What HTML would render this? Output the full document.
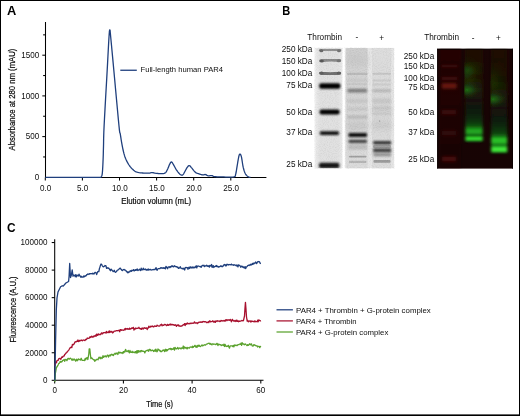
<!DOCTYPE html>
<html><head><meta charset="utf-8"><title>Figure</title>
<style>html,body{margin:0;padding:0;background:#fff;width:520px;height:416px;overflow:hidden;font-family:"Liberation Sans",sans-serif}</style></head>
<body>
<svg width="520" height="416" viewBox="0 0 520 416" style="display:block;position:absolute;left:0;top:0">
<defs>
<filter id="b1" x="-20%" y="-50%" width="140%" height="200%"><feGaussianBlur stdDeviation="0.7"/></filter>
<filter id="b2" x="-20%" y="-80%" width="140%" height="260%"><feGaussianBlur stdDeviation="1.2"/></filter>
<filter id="b3" x="-30%" y="-80%" width="160%" height="260%"><feGaussianBlur stdDeviation="2.5"/></filter>
<filter id="b5" x="-30%" y="-30%" width="160%" height="160%"><feGaussianBlur stdDeviation="4"/></filter>
</defs>
<rect x="0" y="0" width="520" height="416" fill="#fff"/>
<g stroke="#000" stroke-width="1.05" fill="none">
<path d="M45.5 22 V177.4 H266.4"/>
<path d="M43.10 156.95 H45.3"/>
<path d="M42.30 136.60 H45.3"/>
<path d="M43.10 116.25 H45.3"/>
<path d="M42.30 95.90 H45.3"/>
<path d="M43.10 75.55 H45.3"/>
<path d="M42.30 55.20 H45.3"/>
<path d="M43.10 34.85 H45.3"/>
<path d="M45.30 177.4 V180.6"/>
<path d="M82.40 177.4 V180.6"/>
<path d="M119.50 177.4 V180.6"/>
<path d="M156.60 177.4 V180.6"/>
<path d="M193.70 177.4 V180.6"/>
<path d="M230.80 177.4 V180.6"/>
</g>
<path d="M45.30 177.30 L100.60 177.30 L100.59 177.31 L100.56 177.34 L100.54 177.37 L100.53 177.38 L100.54 177.36 L100.60 177.30 L100.71 177.21 L100.87 177.11 L101.05 176.99 L101.24 176.81 L101.43 176.55 L101.60 176.20 L101.75 175.83 L101.89 175.47 L102.02 175.03 L102.15 174.43 L102.27 173.59 L102.40 172.40 L102.53 170.79 L102.65 168.82 L102.78 166.60 L102.89 164.24 L103.00 161.87 L103.10 159.60 L103.18 157.48 L103.25 155.43 L103.31 153.36 L103.36 151.19 L103.43 148.83 L103.50 146.20 L103.56 143.64 L103.59 141.30 L103.63 138.76 L103.71 135.64 L103.85 131.52 L104.10 126.00 L104.49 118.47 L105.00 109.13 L105.57 98.80 L106.17 88.29 L106.73 78.42 L107.20 70.00 L107.59 62.87 L107.93 56.34 L108.24 50.44 L108.52 45.23 L108.77 40.73 L109.00 37.00 L109.20 34.15 L109.35 32.19 L109.48 30.94 L109.60 30.26 L109.72 29.96 L109.85 29.90 L109.97 29.96 L110.05 30.26 L110.13 30.94 L110.25 32.19 L110.43 34.15 L110.70 37.00 L111.06 40.73 L111.49 45.23 L111.98 50.44 L112.53 56.34 L113.14 62.87 L113.80 70.00 L114.59 78.56 L115.52 88.74 L116.51 99.56 L117.48 110.03 L118.33 119.17 L119.00 126.00 L119.43 130.08 L119.70 132.10 L119.85 132.79 L119.96 132.88 L120.09 133.07 L120.30 134.10 L120.58 135.90 L120.89 137.89 L121.21 139.98 L121.56 142.11 L121.92 144.21 L122.30 146.20 L122.69 148.11 L123.10 150.00 L123.52 151.86 L123.98 153.66 L124.47 155.38 L125.00 157.00 L125.59 158.53 L126.23 160.00 L126.91 161.38 L127.61 162.68 L128.31 163.89 L129.00 165.00 L129.68 166.00 L130.36 166.89 L131.05 167.69 L131.74 168.42 L132.42 169.08 L133.10 169.70 L133.74 170.26 L134.34 170.76 L134.94 171.19 L135.57 171.57 L136.28 171.90 L137.10 172.20 L138.08 172.45 L139.18 172.65 L140.36 172.81 L141.56 172.93 L142.73 173.02 L143.80 173.10 L144.81 173.16 L145.80 173.19 L146.75 173.19 L147.65 173.17 L148.47 173.14 L149.20 173.10 L149.79 173.03 L150.25 172.93 L150.63 172.81 L151.00 172.70 L151.40 172.62 L151.90 172.60 L152.50 172.65 L153.17 172.76 L153.87 172.90 L154.59 173.05 L155.31 173.19 L156.00 173.30 L156.66 173.38 L157.31 173.46 L157.96 173.52 L158.61 173.57 L159.29 173.60 L160.00 173.60 L160.78 173.61 L161.63 173.63 L162.49 173.63 L163.34 173.58 L164.12 173.45 L164.80 173.20 L165.35 172.83 L165.81 172.36 L166.21 171.80 L166.57 171.18 L166.93 170.51 L167.30 169.80 L167.69 169.01 L168.07 168.10 L168.45 167.15 L168.81 166.21 L169.17 165.34 L169.50 164.60 L169.81 163.97 L170.11 163.39 L170.39 162.88 L170.66 162.47 L170.93 162.17 L171.20 162.00 L171.45 161.96 L171.67 162.02 L171.88 162.19 L172.12 162.49 L172.42 162.92 L172.80 163.50 L173.29 164.30 L173.87 165.33 L174.51 166.49 L175.16 167.69 L175.81 168.83 L176.40 169.80 L176.96 170.63 L177.50 171.40 L178.04 172.11 L178.55 172.75 L179.04 173.32 L179.50 173.80 L179.92 174.20 L180.32 174.52 L180.69 174.76 L181.04 174.94 L181.37 175.05 L181.70 175.10 L181.99 175.13 L182.23 175.14 L182.46 175.08 L182.71 174.92 L183.01 174.61 L183.40 174.10 L183.91 173.30 L184.51 172.21 L185.16 170.97 L185.83 169.71 L186.45 168.58 L187.00 167.70 L187.46 167.05 L187.85 166.51 L188.21 166.09 L188.56 165.79 L188.91 165.63 L189.30 165.60 L189.70 165.74 L190.11 166.06 L190.52 166.51 L190.95 167.04 L191.41 167.62 L191.90 168.20 L192.44 168.84 L193.00 169.57 L193.60 170.36 L194.22 171.13 L194.85 171.83 L195.50 172.40 L196.18 172.84 L196.89 173.19 L197.62 173.46 L198.35 173.69 L199.05 173.90 L199.70 174.10 L200.30 174.30 L200.87 174.48 L201.41 174.63 L201.92 174.76 L202.42 174.85 L202.90 174.90 L203.35 174.88 L203.77 174.79 L204.18 174.67 L204.57 174.55 L204.97 174.48 L205.40 174.50 L205.84 174.64 L206.28 174.86 L206.73 175.14 L207.20 175.41 L207.68 175.65 L208.20 175.80 L208.76 175.84 L209.37 175.80 L210.01 175.72 L210.64 175.63 L211.24 175.58 L211.80 175.60 L212.25 175.71 L212.59 175.87 L212.91 176.07 L213.29 176.27 L213.79 176.46 L214.50 176.60 L215.41 176.69 L216.46 176.76 L217.64 176.81 L218.94 176.85 L220.36 176.88 L221.90 176.90 L223.71 176.95 L225.84 177.03 L228.08 177.09 L230.25 177.12 L232.16 177.07 L233.60 176.90 L234.51 176.66 L235.03 176.39 L235.29 176.03 L235.40 175.56 L235.50 174.93 L235.70 174.10 L235.98 173.02 L236.24 171.73 L236.47 170.27 L236.71 168.72 L236.95 167.14 L237.20 165.60 L237.48 163.99 L237.77 162.23 L238.07 160.44 L238.36 158.75 L238.64 157.26 L238.90 156.10 L239.13 155.27 L239.33 154.69 L239.52 154.31 L239.70 154.11 L239.89 154.05 L240.10 154.10 L240.32 154.24 L240.54 154.48 L240.76 154.87 L241.00 155.43 L241.24 156.20 L241.50 157.20 L241.77 158.57 L242.05 160.30 L242.34 162.24 L242.65 164.23 L242.97 166.10 L243.30 167.70 L243.65 169.05 L244.01 170.27 L244.39 171.39 L244.78 172.39 L245.18 173.29 L245.60 174.10 L246.05 174.79 L246.52 175.35 L247.01 175.81 L247.50 176.19 L247.97 176.51 L248.40 176.80 L248.81 177.03 L249.23 177.18 L249.62 177.27 L249.98 177.32 L250.28 177.36 L250.50 177.40" fill="none" stroke="#1f3f7d" stroke-width="1.3" stroke-linejoin="round"/>
<path d="M120.3 70.25 H136.8" stroke="#1f3f7d" stroke-width="1.3"/>
<g font-family="'Liberation Sans', sans-serif" fill="#0d0d0d" opacity="0.995">
<g font-size="8.6" text-anchor="end">
<text x="39.3" y="180.05" textLength="4.49" lengthAdjust="spacingAndGlyphs">0</text>
<text x="39.3" y="139.35" textLength="13.48" lengthAdjust="spacingAndGlyphs">500</text>
<text x="39.3" y="98.65" textLength="17.98" lengthAdjust="spacingAndGlyphs">1000</text>
<text x="39.3" y="57.95" textLength="17.98" lengthAdjust="spacingAndGlyphs">1500</text>
</g>
<g font-size="8.6" text-anchor="middle">
<text x="45.60" y="190.6" textLength="11.24" lengthAdjust="spacingAndGlyphs">0.0</text>
<text x="82.70" y="190.6" textLength="11.24" lengthAdjust="spacingAndGlyphs">5.0</text>
<text x="119.80" y="190.6" textLength="15.73" lengthAdjust="spacingAndGlyphs">10.0</text>
<text x="156.90" y="190.6" textLength="15.73" lengthAdjust="spacingAndGlyphs">15.0</text>
<text x="194.00" y="190.6" textLength="15.73" lengthAdjust="spacingAndGlyphs">20.0</text>
<text x="231.10" y="190.6" textLength="15.73" lengthAdjust="spacingAndGlyphs">25.0</text>
</g>
<text font-size="8.8" stroke="#0d0d0d" stroke-width="0.22" text-anchor="middle" textLength="101.8" lengthAdjust="spacingAndGlyphs" transform="translate(15.3,99.6) rotate(-90)">Absorbance at 280 nm (mAU)</text>
<text font-size="8.8" stroke="#0d0d0d" stroke-width="0.22" text-anchor="middle" textLength="70" lengthAdjust="spacingAndGlyphs" x="156.2" y="204.3">Elution volumn (mL)</text>
<text font-size="7.7" x="140.5" y="72.4" textLength="82.5" lengthAdjust="spacingAndGlyphs">Full-length human PAR4</text>
<g font-size="12.25" font-weight="bold" fill="#000">
<text x="7.0" y="15.35" textLength="9.3" lengthAdjust="spacingAndGlyphs">A</text><text x="282.2" y="15.3" textLength="8.0" lengthAdjust="spacingAndGlyphs">B</text><text x="7.0" y="232.2" textLength="8.6" lengthAdjust="spacingAndGlyphs">C</text>
</g>
<g font-size="8.2">
<text x="307.3" y="39.8" textLength="34.7" lengthAdjust="spacingAndGlyphs">Thrombin</text><text x="355.6" y="40.3">-</text><text x="379.2" y="40.9">+</text>
<text x="424.2" y="40.4" textLength="34.8" lengthAdjust="spacingAndGlyphs">Thrombin</text><text x="471.7" y="40.6">-</text><text x="496.1" y="41.1">+</text>
</g>
<g font-size="8.2" text-anchor="end">
<text x="312.3" y="51.90">250 kDa</text>
<text x="312.3" y="63.90">150 kDa</text>
<text x="312.3" y="76.40">100 kDa</text>
<text x="312.3" y="88.40">75 kDa</text>
<text x="312.3" y="114.90">50 kDa</text>
<text x="312.3" y="135.40">37 kDa</text>
<text x="312.3" y="166.70">25 kDa</text>
<text x="434.3" y="58.50">250 kDa</text>
<text x="434.3" y="69.00">150 kDa</text>
<text x="434.3" y="80.80">100 kDa</text>
<text x="434.3" y="90.30">75 kDa</text>
<text x="434.3" y="115.00">50 kDa</text>
<text x="434.3" y="135.40">37 kDa</text>
<text x="434.3" y="161.80">25 kDa</text>
</g>
<g font-size="8.6" text-anchor="end">
<text x="47.4" y="383.05" textLength="4.49" lengthAdjust="spacingAndGlyphs">0</text>
<text x="47.4" y="355.50" textLength="22.47" lengthAdjust="spacingAndGlyphs">20000</text>
<text x="47.4" y="327.95" textLength="22.47" lengthAdjust="spacingAndGlyphs">40000</text>
<text x="47.4" y="300.40" textLength="22.47" lengthAdjust="spacingAndGlyphs">60000</text>
<text x="47.4" y="272.85" textLength="22.47" lengthAdjust="spacingAndGlyphs">80000</text>
<text x="47.4" y="245.30" textLength="26.97" lengthAdjust="spacingAndGlyphs">100000</text>
</g>
<g font-size="8.6" text-anchor="middle">
<text x="54.70" y="393.4" textLength="4.49" lengthAdjust="spacingAndGlyphs">0</text>
<text x="123.40" y="393.4" textLength="8.99" lengthAdjust="spacingAndGlyphs">20</text>
<text x="192.10" y="393.4" textLength="8.99" lengthAdjust="spacingAndGlyphs">40</text>
<text x="260.80" y="393.4" textLength="8.99" lengthAdjust="spacingAndGlyphs">60</text>
</g>
<text font-size="8.8" stroke="#0d0d0d" stroke-width="0.22" text-anchor="middle" textLength="66.1" lengthAdjust="spacingAndGlyphs" transform="translate(15.6,309.5) rotate(-90)">Fluorescence (A.U.)</text>
<text font-size="8.8" stroke="#0d0d0d" stroke-width="0.22" text-anchor="middle" textLength="26.9" lengthAdjust="spacingAndGlyphs" x="159.6" y="406.5">Time (s)</text>
<g font-size="7.8" lengthAdjust="spacingAndGlyphs">
<text x="296" y="312.5" textLength="134.8" lengthAdjust="spacingAndGlyphs">PAR4 + Thrombin + G-protein complex</text>
<text x="296" y="323.6" textLength="60.6" lengthAdjust="spacingAndGlyphs">PAR4 + Thrombin</text>
<text x="296" y="334.7" textLength="92.3" lengthAdjust="spacingAndGlyphs">PAR4 + G-protein complex</text>
</g>
</g>
<g stroke="#000" stroke-width="1.05" fill="none">
<path d="M54.7 239.2 V380.3 H263.5"/>
<path d="M51.7 380.30 H54.7"/>
<path d="M51.7 352.75 H54.7"/>
<path d="M51.7 325.20 H54.7"/>
<path d="M51.7 297.65 H54.7"/>
<path d="M51.7 270.10 H54.7"/>
<path d="M51.7 242.55 H54.7"/>
<path d="M54.70 380.3 V383.5"/>
<path d="M123.40 380.3 V383.5"/>
<path d="M192.10 380.3 V383.5"/>
<path d="M260.80 380.3 V383.5"/>
</g>
<path d="M54.80 381.85 L55.35 373.48 L55.90 370.61 L56.45 367.09 L57.00 367.03 L57.55 365.90 L58.10 365.01 L58.65 363.56 L59.20 363.35 L59.75 362.48 L60.30 361.33 L60.85 362.30 L61.40 361.73 L61.95 361.80 L62.50 360.64 L63.05 360.32 L63.60 360.22 L64.15 359.52 L64.70 361.29 L65.25 359.70 L65.80 359.37 L66.35 359.78 L66.90 360.69 L67.45 359.54 L68.00 358.38 L68.55 358.38 L69.10 359.25 L69.65 358.64 L70.20 358.14 L70.75 358.45 L71.30 359.07 L71.85 360.17 L72.40 358.97 L72.95 360.15 L73.50 359.98 L74.05 358.81 L74.60 359.82 L75.15 359.71 L75.70 361.17 L76.25 360.25 L76.80 359.16 L77.35 360.71 L77.90 359.97 L78.45 358.94 L79.00 359.69 L79.55 359.63 L80.10 359.37 L80.65 359.95 L81.20 358.29 L81.75 359.62 L82.30 360.46 L82.85 360.29 L83.40 360.40 L83.95 360.35 L84.50 360.55 L85.05 358.63 L85.60 359.90 L86.15 357.90 L86.70 358.68 L87.25 357.66 L87.80 359.63 L88.80 354.00 L89.20 348.80 L89.80 348.80 L90.30 354.00 L90.90 358.58 L91.45 357.85 L92.00 358.06 L92.55 358.90 L93.10 359.32 L93.65 359.82 L94.20 359.70 L94.75 361.38 L95.30 360.07 L95.85 360.34 L96.40 359.65 L96.95 359.13 L97.50 359.33 L98.05 359.83 L98.60 358.11 L99.15 357.08 L99.70 357.72 L100.25 358.74 L100.80 357.22 L101.35 357.92 L101.90 358.53 L102.45 357.78 L103.00 355.74 L103.55 357.28 L104.10 356.47 L104.65 356.63 L105.20 355.80 L105.75 356.68 L106.30 356.98 L106.85 355.94 L107.40 355.17 L107.95 355.18 L108.50 357.11 L109.05 355.60 L109.60 355.08 L110.15 355.98 L110.70 354.75 L111.25 354.85 L111.80 354.18 L112.35 355.06 L112.90 354.68 L113.45 355.52 L114.00 354.27 L114.55 353.80 L115.10 353.25 L115.65 354.27 L116.20 353.24 L116.75 353.59 L117.30 353.09 L117.85 354.48 L118.40 352.55 L118.95 352.03 L119.50 353.04 L120.05 352.68 L120.60 352.47 L121.15 353.20 L121.70 352.96 L122.25 352.71 L122.80 353.45 L123.35 351.54 L123.90 352.58 L124.45 351.24 L125.00 351.80 L125.55 349.36 L126.10 350.69 L126.65 351.35 L127.20 351.64 L127.75 351.06 L128.30 350.50 L128.85 352.14 L129.40 352.74 L129.95 350.42 L130.50 351.94 L131.05 352.39 L131.60 352.47 L132.15 351.30 L132.70 352.53 L133.25 352.31 L133.80 351.94 L134.35 352.65 L134.90 352.61 L135.45 351.57 L136.00 352.89 L136.55 350.94 L137.10 353.06 L137.65 350.73 L138.20 352.44 L138.75 350.55 L139.30 351.69 L139.85 351.89 L140.40 350.77 L140.95 351.74 L141.50 350.50 L142.05 350.76 L142.60 351.23 L143.15 351.17 L143.70 351.37 L144.25 351.44 L144.80 352.91 L145.35 351.53 L145.90 350.85 L146.45 350.62 L147.00 350.47 L147.55 350.55 L148.10 349.77 L148.65 351.27 L149.20 350.12 L149.75 349.23 L150.30 349.51 L150.85 350.84 L151.40 350.69 L151.95 350.18 L152.50 350.17 L153.05 350.37 L153.60 351.48 L154.15 351.02 L154.70 350.00 L155.25 351.37 L155.80 349.14 L156.35 350.34 L156.90 351.82 L157.45 351.18 L158.00 348.97 L158.55 349.93 L159.10 349.69 L159.65 350.91 L160.20 350.55 L160.75 351.64 L161.30 351.54 L161.85 351.56 L162.40 350.26 L162.95 350.57 L163.50 350.48 L164.05 349.73 L164.60 351.59 L165.15 350.81 L165.70 349.12 L166.25 351.02 L166.80 349.63 L167.35 350.69 L167.90 349.63 L168.45 349.18 L169.00 349.04 L169.55 348.63 L170.10 349.15 L170.65 348.33 L171.20 349.81 L171.75 348.77 L172.30 349.09 L172.85 349.44 L173.40 348.18 L173.95 347.81 L174.50 350.14 L175.05 347.51 L175.60 348.08 L176.15 348.94 L176.70 348.82 L177.25 348.16 L177.80 347.43 L178.35 349.12 L178.90 348.60 L179.45 348.02 L180.00 347.89 L180.55 348.58 L181.10 348.82 L181.65 347.95 L182.20 347.87 L182.75 348.29 L183.30 346.02 L183.85 348.89 L184.40 346.79 L184.95 347.49 L185.50 348.00 L186.05 347.42 L186.60 348.39 L187.15 348.91 L187.70 347.45 L188.25 347.89 L188.80 347.76 L189.35 348.14 L189.90 347.22 L190.45 347.05 L191.00 346.90 L191.55 347.10 L192.10 347.67 L192.65 346.09 L193.20 347.37 L193.75 346.64 L194.30 346.46 L194.85 345.32 L195.40 345.87 L195.95 347.22 L196.50 345.99 L197.05 347.43 L197.60 345.59 L198.15 345.23 L198.70 346.32 L199.25 345.28 L199.80 346.28 L200.35 346.58 L200.90 346.09 L201.45 345.67 L202.00 344.87 L202.55 345.84 L203.10 345.73 L203.65 345.09 L204.20 345.08 L204.75 344.67 L205.30 345.16 L205.85 344.68 L206.40 344.06 L206.95 344.09 L207.50 343.78 L208.05 343.49 L208.60 343.35 L209.15 343.21 L209.70 344.05 L210.25 343.54 L210.80 344.36 L211.35 344.05 L211.90 344.93 L212.45 343.78 L213.00 343.81 L213.55 344.25 L214.10 344.26 L214.65 344.06 L215.20 344.21 L215.75 344.68 L216.30 344.30 L216.85 343.38 L217.40 343.79 L217.95 345.56 L218.50 344.08 L219.05 344.51 L219.60 344.47 L220.15 344.53 L220.70 344.81 L221.25 345.64 L221.80 344.99 L222.35 344.73 L222.90 345.16 L223.45 345.57 L224.00 344.10 L224.55 346.47 L225.10 344.49 L225.65 345.65 L226.20 346.53 L226.75 346.18 L227.30 346.39 L227.85 346.04 L228.40 345.35 L228.95 347.11 L229.50 348.19 L230.05 346.18 L230.60 345.94 L231.15 345.87 L231.70 345.87 L232.25 345.78 L232.80 346.57 L233.35 345.39 L233.90 346.91 L234.45 345.24 L235.00 344.84 L235.55 345.46 L236.10 345.71 L236.65 345.25 L237.20 345.51 L237.75 344.92 L238.30 344.64 L238.85 344.71 L239.40 344.05 L239.95 344.17 L240.50 344.25 L241.05 343.08 L241.60 345.40 L242.15 342.69 L242.70 343.81 L243.25 344.17 L243.80 343.93 L244.35 344.78 L244.90 344.32 L245.45 343.90 L246.00 344.59 L246.55 345.13 L247.10 345.66 L247.65 344.63 L248.20 345.43 L248.75 345.04 L249.30 344.22 L249.85 343.72 L250.40 344.75 L250.95 344.62 L251.50 343.83 L252.05 345.65 L252.60 346.13 L253.15 346.02 L253.70 344.76 L254.25 345.19 L254.80 344.79 L255.35 345.70 L255.90 345.72 L256.45 345.90 L257.00 345.78 L257.55 347.01 L258.10 346.33 L258.65 346.29 L259.20 346.44 L259.75 347.68 L260.30 346.45 L260.85 347.15" fill="none" stroke="#5ba22e" stroke-width="1.3" stroke-linejoin="round"/>
<path d="M54.80 365.79 L55.35 363.41 L55.90 361.57 L56.45 362.84 L57.00 360.51 L57.55 360.37 L58.10 360.42 L58.65 358.93 L59.20 358.65 L59.75 358.36 L60.30 358.73 L60.85 359.25 L61.40 357.76 L61.95 356.82 L62.50 357.30 L63.05 356.35 L63.60 356.03 L64.15 356.03 L64.70 354.47 L65.25 354.25 L65.80 353.20 L66.35 352.96 L66.90 352.57 L67.45 351.32 L68.00 350.97 L68.55 350.35 L69.10 349.47 L69.65 348.52 L70.20 347.73 L70.75 347.69 L71.30 346.96 L71.85 347.51 L72.40 344.42 L72.95 344.94 L73.50 344.31 L74.05 344.05 L74.60 342.86 L75.15 341.66 L75.70 341.83 L76.25 341.84 L76.80 341.15 L77.35 341.44 L77.90 339.86 L78.45 341.53 L79.00 341.35 L79.55 340.40 L80.10 340.82 L80.65 340.49 L81.20 340.00 L81.75 340.41 L82.30 340.81 L82.85 340.07 L83.40 340.02 L83.95 340.12 L84.50 340.33 L85.05 340.54 L85.60 339.34 L86.15 339.66 L86.70 339.27 L87.25 337.99 L87.80 338.46 L88.35 338.36 L88.90 338.16 L89.45 338.10 L90.00 336.67 L90.55 337.47 L91.10 336.86 L91.65 336.30 L92.20 337.11 L92.75 337.03 L93.30 336.16 L93.85 336.73 L94.40 335.94 L94.95 335.99 L95.50 335.23 L96.05 336.39 L96.60 334.09 L97.15 335.20 L97.70 335.41 L98.25 333.82 L98.80 334.53 L99.35 334.36 L99.90 334.59 L100.45 334.58 L101.00 333.54 L101.55 332.83 L102.10 333.98 L102.65 333.69 L103.20 332.63 L103.75 332.82 L104.30 332.67 L104.85 332.71 L105.40 332.47 L105.95 333.02 L106.50 331.39 L107.05 332.72 L107.60 332.34 L108.15 331.98 L108.70 332.62 L109.25 330.81 L109.80 332.51 L110.35 332.06 L110.90 331.25 L111.45 331.97 L112.00 331.55 L112.55 332.94 L113.10 332.51 L113.65 331.76 L114.20 331.12 L114.75 331.13 L115.30 331.18 L115.85 330.95 L116.40 330.66 L116.95 330.71 L117.50 330.75 L118.05 330.52 L118.60 330.32 L119.15 330.09 L119.70 331.72 L120.25 329.59 L120.80 329.71 L121.35 330.32 L121.90 329.83 L122.45 330.09 L123.00 330.17 L123.55 330.29 L124.10 329.92 L124.65 328.94 L125.20 329.88 L125.75 328.33 L126.30 329.09 L126.85 328.84 L127.40 328.51 L127.95 329.28 L128.50 328.83 L129.05 329.38 L129.60 328.07 L130.15 329.18 L130.70 328.95 L131.25 328.71 L131.80 327.88 L132.35 328.41 L132.90 327.70 L133.45 327.38 L134.00 330.00 L134.55 328.79 L135.10 329.15 L135.65 327.98 L136.20 328.49 L136.75 328.46 L137.30 328.45 L137.85 328.20 L138.40 328.12 L138.95 327.25 L139.50 328.63 L140.05 328.58 L140.60 328.97 L141.15 328.31 L141.70 329.36 L142.25 328.31 L142.80 327.95 L143.35 329.01 L143.90 328.16 L144.45 327.63 L145.00 328.18 L145.55 328.36 L146.10 327.96 L146.65 327.95 L147.20 329.62 L147.75 327.83 L148.30 328.05 L148.85 326.15 L149.40 327.19 L149.95 327.25 L150.50 326.55 L151.05 326.15 L151.60 326.65 L152.15 326.21 L152.70 326.02 L153.25 326.83 L153.80 326.87 L154.35 326.30 L154.90 325.87 L155.45 326.30 L156.00 326.40 L156.55 326.25 L157.10 325.16 L157.65 325.66 L158.20 325.96 L158.75 326.03 L159.30 326.15 L159.85 325.99 L160.40 324.85 L160.95 324.80 L161.50 324.29 L162.05 325.80 L162.60 324.99 L163.15 325.18 L163.70 325.42 L164.25 324.74 L164.80 324.32 L165.35 324.69 L165.90 324.83 L166.45 325.65 L167.00 325.33 L167.55 324.36 L168.10 325.23 L168.65 325.27 L169.20 324.37 L169.75 324.85 L170.30 323.97 L170.85 325.07 L171.40 324.74 L171.95 324.22 L172.50 324.55 L173.05 325.02 L173.60 324.68 L174.15 325.17 L174.70 325.35 L175.25 324.72 L175.80 325.04 L176.35 326.33 L176.90 325.38 L177.45 324.96 L178.00 325.47 L178.55 324.84 L179.10 326.13 L179.65 325.81 L180.20 326.23 L180.75 326.20 L181.30 325.97 L181.85 326.10 L182.40 325.55 L182.95 324.97 L183.50 324.63 L184.05 324.76 L184.60 323.57 L185.15 325.58 L185.70 323.65 L186.25 324.31 L186.80 323.53 L187.35 323.02 L187.90 323.83 L188.45 323.56 L189.00 323.48 L189.55 323.74 L190.10 323.10 L190.65 323.55 L191.20 323.56 L191.75 323.09 L192.30 323.06 L192.85 323.42 L193.40 323.12 L193.95 323.12 L194.50 321.80 L195.05 322.96 L195.60 323.07 L196.15 322.76 L196.70 322.94 L197.25 323.67 L197.80 322.71 L198.35 322.95 L198.90 322.14 L199.45 322.10 L200.00 322.25 L200.55 321.93 L201.10 322.40 L201.65 321.89 L202.20 322.23 L202.75 321.56 L203.30 321.41 L203.85 321.86 L204.40 321.62 L204.95 321.78 L205.50 321.76 L206.05 321.85 L206.60 322.51 L207.15 322.63 L207.70 322.26 L208.25 321.69 L208.80 322.58 L209.35 321.03 L209.90 320.75 L210.45 321.87 L211.00 321.70 L211.55 321.60 L212.10 321.65 L212.65 320.78 L213.20 320.99 L213.75 322.15 L214.30 322.01 L214.85 321.10 L215.40 322.40 L215.95 320.86 L216.50 321.08 L217.05 321.48 L217.60 320.70 L218.15 321.02 L218.70 321.14 L219.25 321.00 L219.80 321.58 L220.35 321.39 L220.90 320.49 L221.45 320.65 L222.00 321.02 L222.55 320.85 L223.10 320.44 L223.65 320.99 L224.20 321.14 L224.75 320.36 L225.30 321.02 L225.85 319.76 L226.40 319.71 L226.95 320.72 L227.50 320.00 L228.05 319.86 L228.60 320.18 L229.15 319.92 L229.70 320.37 L230.25 319.42 L230.80 319.91 L231.35 321.76 L231.90 320.31 L232.45 319.37 L233.00 320.70 L233.55 320.75 L234.10 321.25 L234.65 320.70 L235.20 320.38 L235.75 321.49 L236.30 321.21 L236.85 320.03 L237.40 321.38 L237.95 320.97 L238.50 321.71 L239.05 320.97 L239.60 321.45 L240.15 321.06 L240.70 321.16 L241.25 320.76 L241.80 320.46 L242.35 320.61 L242.90 320.79 L243.45 320.59 L244.50 316.00 L245.00 308.00 L245.45 302.40 L245.90 308.00 L246.50 317.00 L247.20 321.15 L247.75 320.49 L248.30 321.79 L248.85 321.16 L249.40 321.05 L249.95 320.82 L250.50 321.81 L251.05 320.82 L251.60 321.71 L252.15 321.14 L252.70 321.46 L253.25 321.36 L253.80 321.79 L254.35 321.79 L254.90 320.79 L255.45 321.76 L256.00 321.52 L256.55 321.59 L257.10 321.72 L257.65 320.13 L258.20 321.72 L258.75 319.90 L259.30 320.29 L259.85 320.69 L260.40 320.95 L260.95 320.66" fill="none" stroke="#a8112f" stroke-width="1.3" stroke-linejoin="round"/>
<path d="M54.80 380.50 L55.60 340.00 L56.30 310.00 L57.00 298.00 L58.00 292.00 L60.60 286.80 L62.30 285.70 L63.20 286.20 L65.90 283.00 L68.60 281.50 L69.10 276.00 L69.70 263.50 L70.50 277.50 L71.40 275.00 L72.20 269.80 L73.00 276.27 L73.55 275.14 L74.10 275.40 L74.65 275.27 L75.20 276.64 L75.75 274.70 L76.30 276.94 L76.85 275.24 L77.40 275.70 L77.95 275.17 L78.50 276.01 L79.05 274.16 L79.60 275.57 L80.15 275.90 L80.70 277.18 L81.25 276.21 L81.80 277.13 L82.35 276.88 L82.90 277.11 L83.45 277.11 L84.00 275.77 L84.55 276.79 L85.10 276.32 L85.65 275.75 L86.20 275.73 L86.75 274.57 L87.30 274.70 L87.85 274.01 L88.40 274.20 L88.95 274.47 L89.50 273.67 L90.05 273.83 L90.60 273.64 L91.15 273.53 L91.70 273.62 L92.25 274.00 L92.80 273.14 L93.35 273.61 L93.90 274.12 L94.45 273.23 L95.00 272.46 L95.55 272.45 L96.10 272.95 L96.65 274.52 L97.20 272.84 L97.75 271.73 L98.30 271.52 L98.85 271.66 L99.40 268.64 L99.95 267.10 L100.50 265.08 L101.05 264.02 L101.60 264.28 L102.15 265.49 L102.70 266.31 L103.25 266.81 L103.80 266.59 L104.35 266.27 L104.90 265.51 L105.45 265.64 L106.00 265.84 L106.55 268.23 L107.10 268.17 L107.65 267.77 L108.20 268.33 L108.75 268.08 L109.30 268.98 L109.85 269.76 L110.40 270.71 L110.95 269.11 L111.50 269.51 L112.05 270.29 L112.60 270.91 L113.15 271.56 L113.70 271.44 L114.25 270.25 L114.80 271.50 L115.35 272.40 L115.90 271.87 L116.45 271.69 L117.00 270.60 L117.55 270.12 L118.10 269.85 L118.65 269.49 L119.20 268.86 L119.75 268.32 L120.30 268.16 L120.85 269.19 L121.40 269.44 L121.95 270.44 L122.50 270.52 L123.05 269.91 L123.60 269.57 L124.15 269.42 L124.70 270.05 L125.25 270.03 L125.80 270.46 L126.35 271.37 L126.90 271.66 L127.45 272.73 L128.00 271.85 L128.55 272.65 L129.10 271.96 L129.65 271.88 L130.20 270.67 L130.75 271.23 L131.30 271.38 L131.85 270.24 L132.40 270.55 L132.95 270.63 L133.50 269.68 L134.05 270.59 L134.60 270.81 L135.15 269.72 L135.70 270.38 L136.25 269.32 L136.80 270.02 L137.35 269.01 L137.90 270.59 L138.45 270.10 L139.00 269.76 L139.55 269.18 L140.10 270.28 L140.65 270.56 L141.20 268.14 L141.75 269.86 L142.30 269.97 L142.85 269.06 L143.40 268.22 L143.95 269.72 L144.50 269.36 L145.05 269.37 L145.60 269.04 L146.15 270.09 L146.70 270.21 L147.25 269.33 L147.80 269.99 L148.35 268.97 L148.90 270.11 L149.45 269.63 L150.00 269.46 L150.55 269.49 L151.10 270.04 L151.65 269.95 L152.20 269.79 L152.75 269.53 L153.30 269.47 L153.85 269.75 L154.40 269.44 L154.95 269.63 L155.50 268.96 L156.05 267.60 L156.60 269.61 L157.15 270.22 L157.70 269.09 L158.25 268.69 L158.80 268.59 L159.35 268.53 L159.90 268.53 L160.45 267.77 L161.00 268.06 L161.55 267.69 L162.10 268.34 L162.65 267.91 L163.20 268.29 L163.75 267.79 L164.30 268.38 L164.85 267.82 L165.40 268.91 L165.95 266.36 L166.50 267.01 L167.05 267.84 L167.60 268.71 L168.15 266.95 L168.70 267.02 L169.25 266.76 L169.80 267.60 L170.35 266.52 L170.90 267.01 L171.45 266.31 L172.00 265.63 L172.55 266.49 L173.10 266.50 L173.65 266.88 L174.20 265.93 L174.75 265.78 L175.30 266.63 L175.85 266.59 L176.40 266.76 L176.95 266.70 L177.50 267.58 L178.05 267.26 L178.60 268.33 L179.15 268.00 L179.70 267.88 L180.25 266.65 L180.80 268.14 L181.35 268.18 L181.90 268.56 L182.45 268.85 L183.00 268.13 L183.55 269.01 L184.10 268.33 L184.65 269.96 L185.20 267.88 L185.75 267.52 L186.30 267.47 L186.85 267.82 L187.40 267.57 L187.95 269.31 L188.50 267.83 L189.05 267.11 L189.60 268.48 L190.15 267.35 L190.70 266.85 L191.25 268.01 L191.80 267.75 L192.35 267.00 L192.90 268.00 L193.45 267.12 L194.00 267.91 L194.55 267.13 L195.10 267.65 L195.65 266.67 L196.20 265.77 L196.75 267.95 L197.30 266.12 L197.85 266.31 L198.40 265.98 L198.95 266.26 L199.50 266.50 L200.05 266.45 L200.60 266.71 L201.15 267.36 L201.70 266.19 L202.25 265.50 L202.80 265.50 L203.35 265.79 L203.90 265.16 L204.45 266.64 L205.00 265.82 L205.55 265.91 L206.10 266.07 L206.65 265.21 L207.20 265.50 L207.75 266.41 L208.30 266.40 L208.85 265.78 L209.40 267.16 L209.95 265.31 L210.50 265.91 L211.05 266.01 L211.60 264.49 L212.15 267.36 L212.70 266.44 L213.25 265.61 L213.80 267.50 L214.35 266.64 L214.90 266.57 L215.45 265.97 L216.00 266.42 L216.55 265.47 L217.10 266.89 L217.65 266.21 L218.20 266.54 L218.75 267.20 L219.30 266.65 L219.85 266.51 L220.40 266.39 L220.95 265.66 L221.50 266.48 L222.05 266.78 L222.60 266.19 L223.15 266.14 L223.70 264.96 L224.25 264.84 L224.80 264.37 L225.35 265.85 L225.90 264.83 L226.45 265.70 L227.00 264.27 L227.55 264.35 L228.10 264.55 L228.65 264.97 L229.20 264.52 L229.75 264.68 L230.30 264.63 L230.85 264.79 L231.40 264.08 L231.95 264.86 L232.50 264.77 L233.05 264.91 L233.60 265.31 L234.15 264.67 L234.70 265.09 L235.25 265.03 L235.80 265.52 L236.35 265.81 L236.90 264.83 L237.45 265.82 L238.00 266.81 L238.55 264.83 L239.10 265.35 L239.65 265.45 L240.20 265.95 L240.75 267.23 L241.30 266.39 L241.85 266.11 L242.40 267.03 L242.95 266.43 L243.50 267.60 L244.05 267.25 L244.60 268.03 L245.15 266.60 L245.70 268.61 L246.25 267.08 L246.80 266.78 L247.35 266.15 L247.90 265.55 L248.45 265.26 L249.00 265.49 L249.55 264.84 L250.10 265.20 L250.65 264.25 L251.20 264.84 L251.75 264.75 L252.30 263.47 L252.85 264.33 L253.40 263.18 L253.95 263.74 L254.50 263.02 L255.05 263.18 L255.60 261.97 L256.15 262.57 L256.70 263.58 L257.25 262.40 L257.80 261.62 L258.35 261.74 L258.90 261.47 L259.45 261.77 L260.00 262.86 L260.55 263.94" fill="none" stroke="#1f3f7d" stroke-width="1.3" stroke-linejoin="round"/>
<path d="M276.5 309.8 H292.9" stroke="#1f3f7d" stroke-width="1.25"/>
<path d="M276.5 320.9 H292.9" stroke="#a8112f" stroke-width="1.25"/>
<path d="M276.5 332.0 H292.9" stroke="#5ba22e" stroke-width="1.25"/>
<g>
<filter id="bg" x="-20%" y="-60%" width="140%" height="220%"><feGaussianBlur stdDeviation="0.95"/></filter>
<clipPath id="cg1"><rect x="315.6" y="47.9" width="26.8" height="120.3"/></clipPath>
<clipPath id="cg2"><rect x="344.9" y="47.9" width="49.2" height="120.3"/></clipPath>
<rect x="314.6" y="47.9" width="27.8" height="120.3" fill="#efefef"/><rect x="315.8" y="47.9" width="26.4" height="120.3" fill="#e9e9e9"/>
<rect x="344.9" y="47.9" width="49.2" height="120.3" fill="#e6e6e6"/>
<g clip-path="url(#cg1)">
<rect x="318.5" y="46" width="21.5" height="124" fill="#e1e1e1" filter="url(#b2)"/>
<path d="M320.4 50.5 Q330 48.9 339.8 50.5" fill="none" stroke="#909090" stroke-width="3.2" stroke-linecap="round" filter="url(#b1)"/>
<path d="M320.6 60.9 Q330 58.9 339.6 60.5" fill="none" stroke="#8a8a8a" stroke-width="3.2" stroke-linecap="round" filter="url(#b1)"/>
<path d="M320.6 73.1 Q330 74.7 339.6 73.2" fill="none" stroke="#707070" stroke-width="3.2" stroke-linecap="round" filter="url(#b1)"/>
<ellipse cx="321.4" cy="50.7" rx="2" ry="1.5" fill="#6a6a6a" filter="url(#b1)"/>
<ellipse cx="339.0" cy="50.7" rx="2" ry="1.5" fill="#747474" filter="url(#b1)"/>
<ellipse cx="321.8" cy="61.0" rx="2" ry="1.5" fill="#585858" filter="url(#b1)"/>
<ellipse cx="338.8" cy="60.7" rx="2" ry="1.5" fill="#767676" filter="url(#b1)"/>
<ellipse cx="321.6" cy="73.0" rx="2" ry="1.5" fill="#5e5e5e" filter="url(#b1)"/>
<ellipse cx="338.8" cy="73.1" rx="2" ry="1.5" fill="#5e5e5e" filter="url(#b1)"/>
<rect x="319.2" y="83.20" width="21.2" height="5.6" rx="2" fill="#000" filter="url(#bg)"/>
<rect x="319.6" y="109.40" width="20.0" height="5.0" rx="2" fill="#000" filter="url(#bg)"/>
<rect x="319.6" y="131.20" width="19.6" height="3.8" rx="2" fill="#0a0a0a" filter="url(#bg)"/>
<rect x="319.0" y="162.70" width="20.4" height="5.6" rx="2" fill="#141414" filter="url(#b2)"/>
</g>
<g clip-path="url(#cg2)">
<linearGradient id="lg2" x1="0" y1="0" x2="0" y2="1"><stop offset="0" stop-color="#cecece"/><stop offset="0.2" stop-color="#d2d2d2"/><stop offset="0.5" stop-color="#d6d6d6"/><stop offset="1" stop-color="#dcdcdc"/></linearGradient>
<rect x="346.2" y="44" width="21.4" height="128" fill="url(#lg2)" filter="url(#b1)"/>
<linearGradient id="lg3" x1="0" y1="0" x2="0" y2="1"><stop offset="0" stop-color="#dedede"/><stop offset="0.5" stop-color="#d8d8d8"/><stop offset="1" stop-color="#dddddd"/></linearGradient>
<rect x="372.0" y="44" width="19.2" height="128" fill="url(#lg3)" filter="url(#b1)"/>
<rect x="347.0" y="55.00" width="20.5" height="10.0" rx="1" fill="#cbcbcb" filter="url(#b3)"/>
<rect x="347.0" y="121.00" width="20.5" height="10.0" rx="1" fill="#cacaca" filter="url(#b3)"/>
<rect x="348.0" y="144.50" width="19.0" height="5.0" rx="1" fill="#bdbdbd" filter="url(#b2)"/>
<rect x="347.0" y="72.70" width="20.5" height="2.2" rx="1" fill="#bababa" filter="url(#b1)"/>
<rect x="347.0" y="79.10" width="20.5" height="2.4" rx="1" fill="#c8c8c8" filter="url(#b2)"/>
<rect x="347.5" y="88.80" width="19.5" height="3.8" rx="1" fill="#7e7e7e" filter="url(#b2)"/>
<rect x="347.0" y="99.50" width="20.5" height="3.0" rx="1" fill="#c4c4c4" filter="url(#b2)"/>
<rect x="347.0" y="115.40" width="20.5" height="3.0" rx="1" fill="#b8b8b8" filter="url(#b2)"/>
<rect x="348.5" y="133.10" width="18.5" height="3.8" rx="1" fill="#0a0a0a" filter="url(#bg)"/>
<rect x="348.5" y="139.80" width="18.5" height="3.2" rx="1" fill="#404040" filter="url(#bg)"/>
<rect x="349.0" y="155.70" width="17.5" height="1.8" rx="1" fill="#a0a0a0" filter="url(#b1)"/>
<rect x="349.0" y="160.80" width="17.5" height="2.2" rx="1" fill="#b6b6b6" filter="url(#b1)"/>
<rect x="347.0" y="83.30" width="20.5" height="2.0" rx="1" fill="#c8c8c8" filter="url(#b1)"/>
<rect x="347.0" y="107.50" width="20.5" height="3.0" rx="1" fill="#c6c6c6" filter="url(#b2)"/>
<rect x="373.0" y="145.00" width="18.0" height="3.0" rx="1" fill="#aaa" filter="url(#b1)"/>
<rect x="372.5" y="72.80" width="18.5" height="2.0" rx="1" fill="#c6c6c6" filter="url(#b1)"/>
<rect x="372.5" y="89.40" width="18.5" height="2.6" rx="1" fill="#b2b2b2" filter="url(#b2)"/>
<rect x="372.5" y="98.50" width="18.5" height="5.0" rx="1" fill="#c8c8c8" filter="url(#b2)"/>
<rect x="372.5" y="109.00" width="18.5" height="6.0" rx="1" fill="#cdcdcd" filter="url(#b3)"/>
<rect x="372.5" y="121.00" width="18.5" height="8.0" rx="1" fill="#cccccc" filter="url(#b3)"/>
<rect x="373.2" y="141.00" width="18.0" height="3.4" rx="1" fill="#343434" filter="url(#bg)"/>
<rect x="373.2" y="148.20" width="18.0" height="4.2" rx="1" fill="#444" filter="url(#bg)"/>
<rect x="373.5" y="153.30" width="17.5" height="3.0" rx="1" fill="#8e8e8e" filter="url(#b2)"/>
<rect x="373.5" y="160.10" width="17.0" height="2.6" rx="1" fill="#9c9c9c" filter="url(#b1)"/>
<rect x="372.5" y="79.50" width="18.5" height="2.0" rx="1" fill="#cccccc" filter="url(#b1)"/>
<rect x="372.5" y="83.50" width="18.5" height="2.0" rx="1" fill="#cccccc" filter="url(#b1)"/>
<rect x="372.5" y="106.50" width="18.5" height="3.0" rx="1" fill="#c4c4c4" filter="url(#b2)"/>
<rect x="372.5" y="112.70" width="18.5" height="2.0" rx="1" fill="#cacaca" filter="url(#b1)"/>
<circle cx="379.7" cy="121" r="0.6" fill="#777"/>
</g>
<filter id="grain" x="0" y="0" width="100%" height="100%"><feTurbulence type="fractalNoise" baseFrequency="0.95" numOctaves="2" seed="7" result="n"/><feColorMatrix in="n" type="matrix" values="0 0 0 0 0  0 0 0 0 0  0 0 0 0 0  0 0 0 -1.6 0.95"/></filter>
<rect x="314.6" y="47.9" width="27.8" height="120.3" fill="#000" opacity="0.075" filter="url(#grain)"/>
<rect x="344.9" y="47.9" width="49.2" height="120.3" fill="#000" opacity="0.075" filter="url(#grain)"/>
</g>
<g>
<filter id="bh" x="-30%" y="-5%" width="160%" height="110%"><feGaussianBlur stdDeviation="1.7 0.9"/></filter>
<filter id="br" x="-30%" y="-100%" width="160%" height="300%"><feGaussianBlur stdDeviation="1.6"/></filter>
<clipPath id="cw"><rect x="437.2" y="48.8" width="75.8" height="119.8"/></clipPath>
<linearGradient id="wbg" x1="0" y1="0" x2="0" y2="1"><stop offset="0" stop-color="#1a0505"/><stop offset="0.5" stop-color="#180404"/><stop offset="1" stop-color="#170404"/></linearGradient>
<rect x="437.2" y="48.8" width="75.8" height="119.8" fill="url(#wbg)"/>
<g clip-path="url(#cw)">
<linearGradient id="ltint" x1="0" y1="0" x2="0" y2="1"><stop offset="0" stop-color="#260807" stop-opacity="0.8"/><stop offset="0.45" stop-color="#230706" stop-opacity="0.6"/><stop offset="1" stop-color="#1e0505" stop-opacity="0.3"/></linearGradient>
<rect x="439.5" y="44" width="21.5" height="130" fill="url(#ltint)" filter="url(#b2)"/>
<rect x="441.0" y="65.20" width="17.0" height="2.0" rx="1" fill="#420d0a" filter="url(#b2)"/>
<rect x="441.5" y="77.10" width="16.0" height="3.0" rx="1" fill="#400c09" filter="url(#b2)"/>
<rect x="441.8" y="83.20" width="14.8" height="5.2" rx="1" fill="#6a1611" filter="url(#br)"/>
<rect x="441.5" y="110.00" width="14.8" height="4.4" rx="1" fill="#3e0c0a" filter="url(#br)"/>
<rect x="441.8" y="130.80" width="14.5" height="4.4" rx="1" fill="#320908" filter="url(#br)"/>
<rect x="442.0" y="156.60" width="14.2" height="4.8" rx="1" fill="#480d0b" filter="url(#br)"/>
<linearGradient id="g2" gradientUnits="userSpaceOnUse" x1="0" y1="48.0" x2="0" y2="143.0"><stop offset="0.0000" stop-color="#1f0f05" stop-opacity="0.90"/><stop offset="0.0842" stop-color="#1e1106" stop-opacity="0.90"/><stop offset="0.1684" stop-color="#1c1406" stop-opacity="0.90"/><stop offset="0.2211" stop-color="#1b1707" stop-opacity="0.90"/><stop offset="0.2947" stop-color="#1c1206" stop-opacity="0.90"/><stop offset="0.3684" stop-color="#1c1507" stop-opacity="0.90"/><stop offset="0.4211" stop-color="#1c1a08" stop-opacity="1.00"/><stop offset="0.4526" stop-color="#1c1b08" stop-opacity="1.00"/><stop offset="0.4947" stop-color="#1b1607" stop-opacity="1.00"/><stop offset="0.5474" stop-color="#15120a" stop-opacity="0.90"/><stop offset="0.6105" stop-color="#12160a" stop-opacity="0.95"/><stop offset="0.6737" stop-color="#101c0a" stop-opacity="1.00"/><stop offset="0.7263" stop-color="#0f260b" stop-opacity="1.00"/><stop offset="0.7684" stop-color="#0f320c" stop-opacity="1.00"/><stop offset="0.8000" stop-color="#10420e" stop-opacity="1.00"/><stop offset="0.8263" stop-color="#125811" stop-opacity="1.00"/><stop offset="0.8453" stop-color="#188418" stop-opacity="1.00"/><stop offset="0.8684" stop-color="#22a821" stop-opacity="1.00"/><stop offset="0.8947" stop-color="#20a01f" stop-opacity="1.00"/><stop offset="0.9137" stop-color="#126a12" stop-opacity="1.00"/><stop offset="0.9263" stop-color="#0d4c0d" stop-opacity="1.00"/><stop offset="0.9400" stop-color="#2cc82a" stop-opacity="1.00"/><stop offset="0.9558" stop-color="#3eec38" stop-opacity="1.00"/><stop offset="0.9705" stop-color="#2ab828" stop-opacity="1.00"/><stop offset="0.9853" stop-color="#0c2808" stop-opacity="0.80"/><stop offset="1.0000" stop-color="#1b0404" stop-opacity="0.00"/></linearGradient>
<rect x="465.4" y="48" width="17.2" height="95" fill="url(#g2)" filter="url(#bh)"/>
<linearGradient id="g3" gradientUnits="userSpaceOnUse" x1="0" y1="48.0" x2="0" y2="154.3"><stop offset="0.0000" stop-color="#1e0d05" stop-opacity="0.80"/><stop offset="0.1129" stop-color="#1d0f05" stop-opacity="0.80"/><stop offset="0.2070" stop-color="#1c1106" stop-opacity="0.85"/><stop offset="0.3010" stop-color="#1b1306" stop-opacity="0.90"/><stop offset="0.3951" stop-color="#1b1507" stop-opacity="0.90"/><stop offset="0.4421" stop-color="#1b1908" stop-opacity="1.00"/><stop offset="0.4798" stop-color="#1b1a08" stop-opacity="1.00"/><stop offset="0.5174" stop-color="#1a1607" stop-opacity="1.00"/><stop offset="0.5644" stop-color="#15120a" stop-opacity="0.90"/><stop offset="0.6209" stop-color="#12160a" stop-opacity="1.00"/><stop offset="0.6773" stop-color="#101c0a" stop-opacity="1.00"/><stop offset="0.7244" stop-color="#0f260b" stop-opacity="1.00"/><stop offset="0.7714" stop-color="#0f340d" stop-opacity="1.00"/><stop offset="0.8090" stop-color="#114a10" stop-opacity="1.00"/><stop offset="0.8325" stop-color="#167216" stop-opacity="1.00"/><stop offset="0.8514" stop-color="#26b426" stop-opacity="1.00"/><stop offset="0.8702" stop-color="#2cc42a" stop-opacity="1.00"/><stop offset="0.8890" stop-color="#26b226" stop-opacity="1.00"/><stop offset="0.9078" stop-color="#187c18" stop-opacity="1.00"/><stop offset="0.9219" stop-color="#187c18" stop-opacity="1.00"/><stop offset="0.9351" stop-color="#30cc2e" stop-opacity="1.00"/><stop offset="0.9530" stop-color="#4af442" stop-opacity="1.00"/><stop offset="0.9718" stop-color="#34d430" stop-opacity="1.00"/><stop offset="0.9868" stop-color="#0e3a0a" stop-opacity="0.80"/><stop offset="1.0000" stop-color="#1b0404" stop-opacity="0.00"/></linearGradient>
<rect x="491.2" y="48" width="16" height="106.3" fill="url(#g3)" filter="url(#bh)"/>
<linearGradient id="hg" x1="0" y1="0" x2="1" y2="0"><stop offset="0" stop-color="#1c7414" stop-opacity="0"/><stop offset="0.12" stop-color="#1c7414" stop-opacity="0.95"/><stop offset="0.3" stop-color="#1a6412" stop-opacity="0.7"/><stop offset="0.6" stop-color="#18400e" stop-opacity="0.3"/><stop offset="1" stop-color="#18300c" stop-opacity="0.08"/></linearGradient>
<filter id="bv" x="-30%" y="-120%" width="160%" height="340%"><feGaussianBlur stdDeviation="1.0 2.8"/></filter>
<radialGradient id="rg"><stop offset="0" stop-color="#1e7c16" stop-opacity="0.95"/><stop offset="0.35" stop-color="#1b6412" stop-opacity="0.6"/><stop offset="0.7" stop-color="#18400e" stop-opacity="0.22"/><stop offset="1" stop-color="#18300c" stop-opacity="0"/></radialGradient>
<clipPath id="cl2"><rect x="464.4" y="48" width="19.6" height="100"/></clipPath>
<clipPath id="cl3"><rect x="490.6" y="48" width="18.4" height="100"/></clipPath>
<g clip-path="url(#cl2)" filter="url(#b1)">
<ellipse cx="467.0" cy="90" rx="15" ry="9.5" fill="url(#rg)" opacity="0.9"/>
<ellipse cx="467.3" cy="70" rx="14" ry="9" fill="url(#rg)" opacity="0.4"/>
<ellipse cx="467" cy="76" rx="18" ry="24" fill="url(#rg)" opacity="0.32"/>
</g>
<g clip-path="url(#cl3)" filter="url(#b1)">
<ellipse cx="493.2" cy="99.2" rx="15" ry="9.5" fill="url(#rg)" opacity="0.9"/>
<ellipse cx="493" cy="82" rx="18" ry="26" fill="url(#rg)" opacity="0.25"/>
</g>
</g>
<rect x="437.2" y="48.8" width="75.8" height="0.9" fill="#070101"/>
<rect x="437.2" y="48.8" width="0.9" height="119.8" fill="#0c0202"/>
<rect x="512.1" y="48.8" width="0.9" height="119.8" fill="#0c0202"/>
</g>
<rect x="0" y="0" width="520" height="1" fill="#000"/><rect x="0" y="0" width="1" height="416" fill="#000"/><rect x="519" y="0" width="1" height="416" fill="#000"/><rect x="0" y="414.4" width="520" height="1.6" fill="#000"/>
</svg>
</body></html>
